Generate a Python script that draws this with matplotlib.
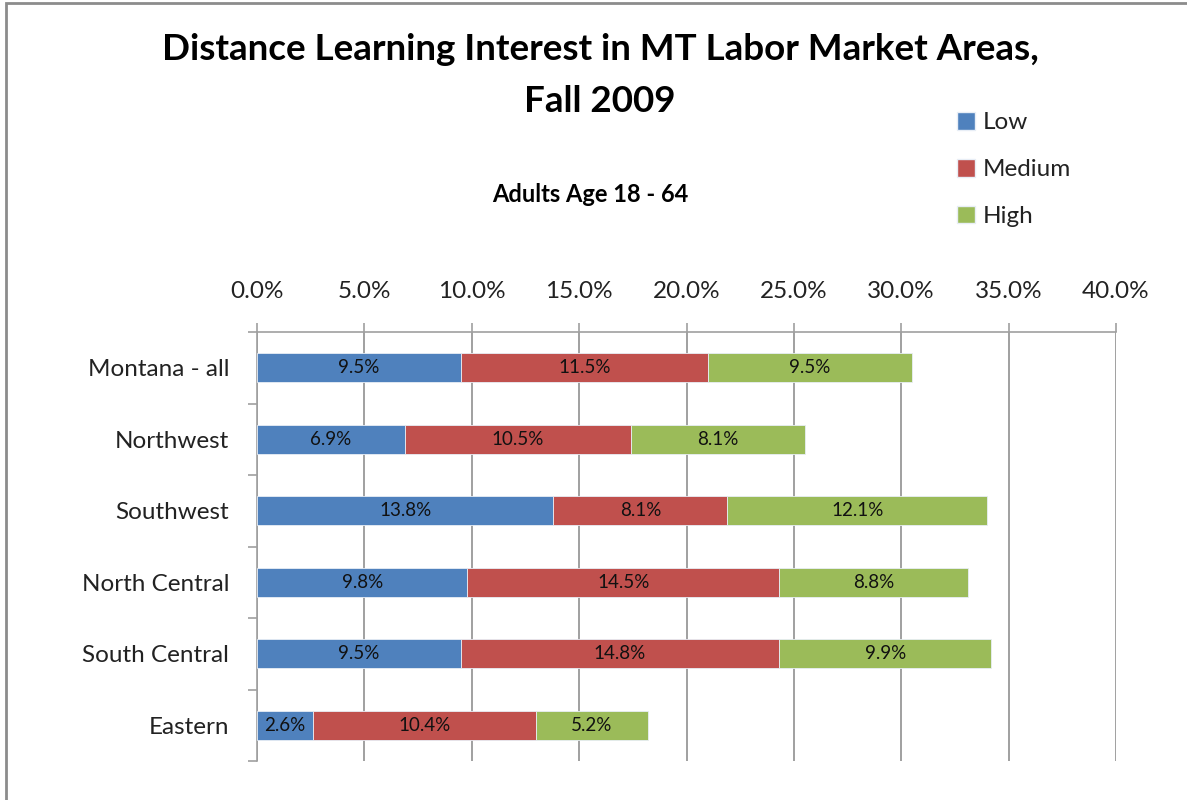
import matplotlib
matplotlib.use("Agg")
import matplotlib.pyplot as plt
from matplotlib.patches import Rectangle, Patch
import numpy as np

plt.rcParams['font.family'] = ['Lato', 'DejaVu Sans']

categories = ["Montana - all", "Northwest", "Southwest", "North Central", "South Central", "Eastern"]
low = [9.5, 6.9, 13.8, 9.8, 9.5, 2.6]
medium = [11.5, 10.5, 8.1, 14.5, 14.8, 10.4]
high = [9.5, 8.1, 12.1, 8.8, 9.9, 5.2]
series_names = ["Low", "Medium", "High"]
colors = ["#4F81BD", "#C0504D", "#9BBB59"]
xticks = [0, 5, 10, 15, 20, 25, 30, 35, 40]

W, H = 1187, 800
fig = plt.figure(figsize=(W / 100, H / 100), dpi=100)
ax = fig.add_axes([257 / W, 1 - 761 / H, (1116 - 257) / W, (761 - 332) / H])

y = np.arange(len(categories))
left = np.zeros(len(categories))
for vals, name, col in zip([low, medium, high], series_names, colors):
    vals = np.array(vals)
    bars = ax.barh(y, vals, left=left, height=0.41, color=col, label=name,
                   edgecolor="#E8EEF6", linewidth=0.6, zorder=3)
    for b, v, l in zip(bars, vals, left):
        ax.text(l + v / 2, b.get_y() + b.get_height() / 2, f"{v:.1f}%",
                ha="center", va="center", fontsize=13.5, color="#111111", zorder=4)
    left = left + vals

ax.set_xlim(0, 40)
ax.set_ylim(len(categories) - 0.5, -0.5)
ax.xaxis.tick_top()
ax.set_xticks(xticks)
ax.set_xticklabels([f"{t:.1f}%" for t in xticks], fontsize=17.5, color="#222222")
ax.tick_params(axis="x", length=6.5, width=1.2, color="#A0A0A0", pad=15)
ax.set_yticks(y)
ax.set_yticklabels(categories, fontsize=17.5, color="#222222")
ax.tick_params(axis="y", which="major", length=0, pad=20)
ax.set_yticks(np.arange(len(categories) + 1) - 0.5, minor=True)
ax.tick_params(axis="y", which="minor", length=6.5, width=1.2, color="#A0A0A0")
ax.grid(axis="x", color="#A0A0A0", linewidth=1.4, zorder=0)
for s in ["right", "bottom"]:
    ax.spines[s].set_visible(False)
for s in ["left", "top"]:
    ax.spines[s].set_color("#A0A0A0")
    ax.spines[s].set_linewidth(1.2)

fig.text(600 / W, 1 - 50 / H, "Distance Learning Interest in MT Labor Market Areas,",
         ha="center", va="center", fontsize=26.5, fontweight="bold", color="#000000")
fig.text(600 / W, 1 - 101 / H, "Fall 2009",
         ha="center", va="center", fontsize=26.5, fontweight="bold", color="#000000")
fig.text(590 / W, 1 - 195 / H, "Adults Age 18 - 64",
         ha="center", va="center", fontsize=17, fontweight="bold", color="#000000")

handles = [Patch(facecolor=c, edgecolor="#E8EEF6", label=n) for c, n in zip(colors, series_names)]
fig.legend(handles=handles, loc="upper left", bbox_to_anchor=(935 / W, 1 - 90 / H),
           frameon=False, fontsize=17.5, handlelength=0.75, handleheight=0.75,
           handletextpad=0.3, labelspacing=1.05, labelcolor="#222222")

fig.add_artist(Rectangle((6 / W, -0.1), 1.2, 1.1 - 3 / H, transform=fig.transFigure,
                         fill=False, edgecolor="#8C8C8C", linewidth=2))

fig.savefig("out.png", dpi=100)
